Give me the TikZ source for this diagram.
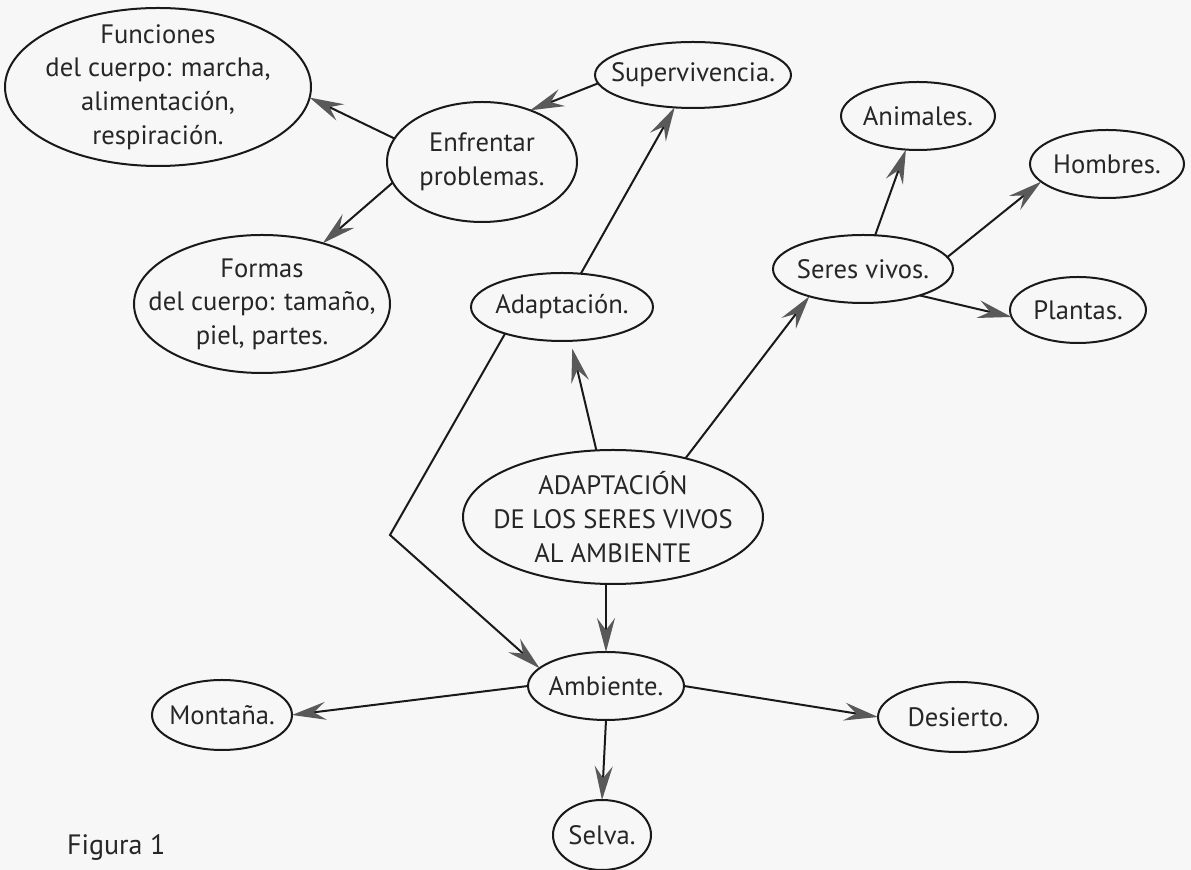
\documentclass[tikz,border=0pt]{standalone}
\usepackage{fontspec}
\setmainfont{PT Sans}
\usetikzlibrary{shapes.geometric,arrows.meta}
\begin{document}
\begin{tikzpicture}[x=0.5pt, y=-0.5pt,
	idea/.style={ellipse, draw=black!90, line width=1pt, inner sep=-30pt, outer sep=0pt, align=center, text=black!85, font=\fontsize{13.3}{16.8}\selectfont},
	arr/.style={-{Stealth[length=17pt, width=9pt, inset=6pt, color=black!65]}, draw=black!90, line width=1pt}]
	\useasboundingbox (0,0) rectangle (1191,870);
	\fill[black!3] (0,0) rectangle (1191,870);
	\node[idea, minimum width=153pt, minimum height=79pt] (fun) at (158,87) {Funciones\\del cuerpo: marcha,\\alimentación,\\respiración.};
	\node[idea, minimum width=98pt, minimum height=33pt] (sup) at (693,75) {Supervivencia.};
	\node[idea, minimum width=95pt, minimum height=60pt] (enf) at (482,162) {Enfrentar\\problemas.};
	\node[idea, minimum width=128pt, minimum height=69pt] (frm) at (262,304) {Formas\\del cuerpo: tamaño,\\piel, partes.};
	\node[idea, minimum width=91pt, minimum height=34pt] (ada) at (562,307) {Adaptación.};
	\node[idea, minimum width=77pt, minimum height=34pt] (ani) at (918,116) {Animales.};
	\node[idea, minimum width=77pt, minimum height=34pt] (hom) at (1107,164) {Hombres.};
	\node[idea, minimum width=90pt, minimum height=34pt] (ser) at (863,269) {Seres vivos.};
	\node[idea, minimum width=68pt, minimum height=33pt] (pla) at (1078,310) {Plantas.};
	\node[idea, minimum width=150pt, minimum height=67pt] (main) at (613,517) {ADAPTACIÓN\\DE LOS SERES VIVOS\\AL AMBIENTE};
	\node[idea, minimum width=78pt, minimum height=34pt] (amb) at (606,686) {Ambiente.};
	\node[idea, minimum width=70pt, minimum height=35pt] (mon) at (222,715) {Montaña.};
	\node[idea, minimum width=80pt, minimum height=35pt] (des) at (958,717) {Desierto.};
	\node[idea, minimum width=49pt, minimum height=35pt] (sel) at (602,835) {Selva.};
	\node[anchor=south west, text=black!85, font=\fontsize{14}{16}\selectfont] (fig) at (60,868) {Figura 1};
	\coordinate (bend) at (390,535);
	\draw[arr] (ada) -- (sup);
	\draw[arr] (sup.185) -- (enf.47);
	\draw[arr] (enf.165) -- (fun.-4);
	\draw[arr] (enf.193) -- (frm.45);
	\draw[arr, shorten >=4pt] (main.104) -- (ada.-76);
	\draw[arr] (main.39) -- (ser.207);
	\draw[arr] (ada.205) -- (bend) -- (amb.165);
	\draw[arr] (amb.north |- main.south) -- (amb.north);
	\draw[arr] (amb.west) -- (mon.east);
	\draw[arr] (amb.east) -- (des.west);
	\draw[arr] (amb.south) -- (sel.north);
	\draw[arr] (ser) -- (ani);
	\draw[arr] (ser.8) -- (hom.195);
	\draw[arr] (ser.-25) -- (pla.186);
\end{tikzpicture}
\end{document}
